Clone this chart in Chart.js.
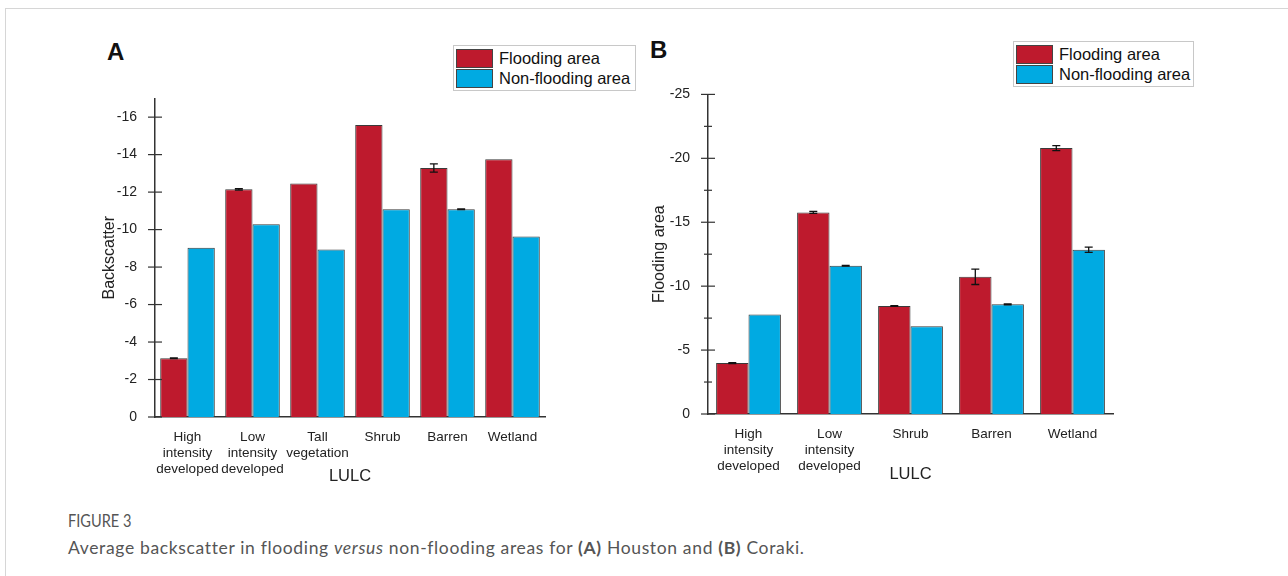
<!DOCTYPE html>
<html>
<head>
<meta charset="utf-8">
<script src="https://cdn.jsdelivr.net/npm/chart.js@4.4.0/dist/chart.umd.min.js"></script>
<style>
  body { margin: 0; width: 1288px; height: 576px; background: #fff; position: relative; overflow: hidden; font-family: "Liberation Sans", Arial, sans-serif; }
  .frame { position: absolute; left: 5px; top: 8px; right: -2px; bottom: -2px; border-left: 1px solid #d6d6d6; border-top: 1px solid #d6d6d6; }
  .box { position: absolute; }
  .letter { position: absolute; font-weight: bold; font-size: 24px; color: #111; }
  .legend { position: absolute; border: 1px solid #c8c8c8; background: #fff; padding: 2px; }
  .legend div { display: flex; align-items: center; height: 20px; font-size: 16.5px; color: #111; }
  .legend span.sw { display: inline-block; width: 37px; height: 19px; border: 1px solid #444; margin-right: 6px; box-sizing: border-box; }
  .cap1 { position: absolute; left: 68px; top: 509px; font-family: Lato, sans-serif; font-size: 18px; color: #555; transform: scaleX(0.81); transform-origin: left top; }
  .cap2 { position: absolute; left: 68px; top: 537px; font-family: Lato, sans-serif; font-size: 17.5px; color: #555; letter-spacing: 0.65px; }
</style>
</head>
<body>
<div class="frame"></div>
<div class="letter" style="left:107px;top:38px;">A</div>
<div class="letter" style="left:650px;top:36px;">B</div>
<div class="box" style="left:100px;top:80px;width:460px;height:410px;"><canvas id="chartA"></canvas></div>
<div class="box" style="left:650px;top:76px;width:480px;height:412px;"><canvas id="chartB"></canvas></div>
<div class="legend" id="legA" style="left:453px;top:45px;width:177px;"></div>
<div class="legend" id="legB" style="left:1013px;top:41px;width:175px;"></div>
<div class="cap1">FIGURE 3</div>
<div class="cap2">Average backscatter in flooding <i>versus</i> non-flooding areas for <b>(A)</b> Houston and <b>(B)</b> Coraki.</div>
<script>
const seriesNames = ['Flooding area', 'Non-flooding area'];
const seriesColors = ['rgb(190, 26, 45)', 'rgb(0, 170, 226)'];

// Houston
const labelsA = [
  ['High', 'intensity', 'developed'],
  ['Low', 'intensity', 'developed'],
  ['Tall', 'vegetation'],
  'Shrub',
  'Barren',
  'Wetland',
];
const floodA = [-3.13, -12.15, -12.46, -15.58, -13.29, -13.75];
const nonFloodA = [-9.03, -10.28, -8.94, -11.09, -11.09, -9.63];
const floodErrA = [0.02, 0.04, 0, 0, 0.22, 0];
const nonFloodErrA = [0, 0, 0, 0, 0.02, 0];

// Coraki
const labelsB = [
  ['High', 'intensity', 'developed'],
  ['Low', 'intensity', 'developed'],
  'Shrub',
  'Barren',
  'Wetland',
];
const floodB = [-3.98, -15.77, -8.45, -10.73, -20.8];
const nonFloodB = [-7.78, -11.6, -6.86, -8.58, -12.85];
const floodErrB = [0.04, 0.08, 0.03, 0.6, 0.2];
const nonFloodErrB = [0, 0.03, 0, 0.04, 0.2];

const errorBars = {
  id: 'errorBars',
  afterDatasetsDraw(chart) {
    const ctx = chart.ctx;
    const y = chart.scales.y;
    chart.data.datasets.forEach((ds, di) => {
      const meta = chart.getDatasetMeta(di);
      ds.errors.forEach((e, i) => {
        if (!e) return;
        const bar = meta.data[i];
        const v = ds.data[i];
        const y1 = y.getPixelForValue(v - e);
        const y2 = y.getPixelForValue(v + e);
        ctx.save();
        ctx.strokeStyle = '#111';
        ctx.lineWidth = 1.3;
        ctx.beginPath();
        ctx.moveTo(bar.x, y1); ctx.lineTo(bar.x, y2);
        ctx.moveTo(bar.x - 4, y1); ctx.lineTo(bar.x + 4, y1);
        ctx.moveTo(bar.x - 4, y2); ctx.lineTo(bar.x + 4, y2);
        ctx.stroke();
        ctx.restore();
      });
    });
  }
};

const axisTicks = {
  id: 'axisTicks',
  afterDraw(chart) {
    const ctx = chart.ctx;
    const y = chart.scales.y;
    const major = chart.options.majorStep;
    ctx.save();
    ctx.strokeStyle = '#333';
    ctx.lineWidth = 1.2;
    y.ticks.forEach(t => {
      const py = y.getPixelForValue(t.value);
      const isMajor = Math.abs(t.value / major - Math.round(t.value / major)) < 1e-6;
      const len = isMajor ? 7 : 4;
      ctx.beginPath();
      ctx.moveTo(y.right - len, py);
      ctx.lineTo(y.right + len, py);
      ctx.stroke();
    });
    ctx.restore();
  }
};

function makeChart(id, labels, flood, nonFlood, fErr, nErr, opts) {
  return new Chart(document.getElementById(id), {
    type: 'bar',
    data: {
      labels: labels,
      datasets: [
        { label: seriesNames[0], data: flood, errors: fErr, backgroundColor: seriesColors[0], borderColor: '#3a3a3a', borderWidth: 1 },
        { label: seriesNames[1], data: nonFlood, errors: nErr, backgroundColor: seriesColors[1], borderColor: '#3a3a3a', borderWidth: 1 },
      ]
    },
    plugins: [errorBars, axisTicks],
    options: {
      responsive: true,
      maintainAspectRatio: false,
      animation: false,
      majorStep: opts.major,
      layout: { padding: { top: 16, right: opts.padRight, left: 0, bottom: 0 } },
      plugins: { legend: { display: false }, tooltip: { enabled: false } },
      datasets: { bar: { categoryPercentage: opts.cat, barPercentage: 1 } },
      scales: {
        x: {
          grid: { display: false },
          border: { display: true, color: '#333', width: 1.5 },
          ticks: { color: '#222', font: { family: 'Liberation Sans', size: 13.5 }, maxRotation: 0, autoSkip: false, padding: 4 },
          title: { display: true, text: 'LULC', color: '#222', font: { family: 'Liberation Sans', size: 16.5 }, padding: { top: 0, bottom: 4 } },
          afterFit(s) { s.height = opts.xh; }
        },
        y: {
          reverse: true,
          min: opts.min,
          max: 0,
          grid: { display: false },
          border: { display: true, color: '#333', width: 1.5 },
          ticks: {
            stepSize: opts.step,
            color: '#222',
            font: { family: 'Liberation Sans', size: 14 },
            padding: 10,
            callback: v => (Math.abs(v / opts.major - Math.round(v / opts.major)) < 1e-6 ? String(v) : '')
          },
          title: { display: true, text: opts.ytitle, color: '#222', font: { family: 'Liberation Sans', size: 16 }, padding: { top: 0, bottom: 0 } },
          afterFit(s) { s.width = opts.yw; }
        }
      }
    }
  });
}

function makeLegend(id) {
  const el = document.getElementById(id);
  seriesNames.forEach((n, i) => {
    const row = document.createElement('div');
    row.innerHTML = '<span class="sw" style="background:' + seriesColors[i] + '"></span>' + n;
    el.appendChild(row);
  });
}

makeChart('chartA', labelsA, floodA, nonFloodA, floodErrA, nonFloodErrA,
  { min: -17, step: 1, major: 2, ytitle: 'Backscatter', yw: 55, xh: 73, padRight: 15, cat: 0.84 });
makeChart('chartB', labelsB, floodB, nonFloodB, floodErrB, nonFloodErrB,
  { min: -25, step: 2.5, major: 5, ytitle: 'Flooding area', yw: 58, xh: 74, padRight: 17, cat: 0.8 });
makeLegend('legA');
makeLegend('legB');
</script>
</body>
</html>
